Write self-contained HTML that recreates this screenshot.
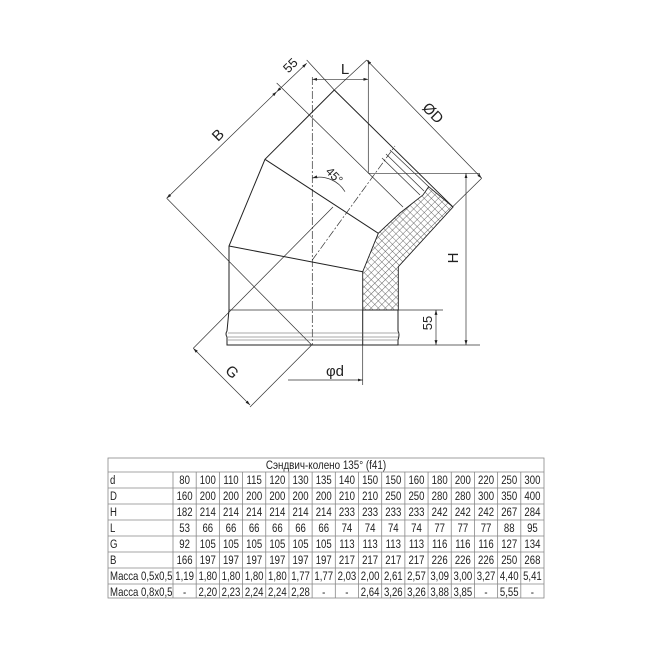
<!DOCTYPE html>
<html><head><meta charset="utf-8"><style>
body{margin:0;background:#fff}
svg{display:block}
text{font-family:"Liberation Sans",sans-serif;fill:#222}
</style></head><body>
<svg width="650" height="650" viewBox="0 0 650 650" xmlns="http://www.w3.org/2000/svg">
<defs>
<pattern id="h" width="5" height="5" patternUnits="userSpaceOnUse" patternTransform="rotate(45)">
<rect width="5" height="5" fill="#fff"/><path d="M0 0H5M0 0V5" stroke="#444" stroke-width="0.8"/>
</pattern>
<marker id="a" viewBox="0 0 10 10" refX="10" refY="5" markerWidth="7" markerHeight="7" orient="auto-start-reverse"><path d="M0 2L10 5L0 8z" fill="#222"/></marker>
</defs>
<g stroke="#333" fill="none" stroke-width="0.7">
<line x1="312.3" y1="77" x2="312.3" y2="345" stroke-dasharray="8 2 2 2"/>
<line x1="368.3" y1="60" x2="368.3" y2="173.3"/>
<line x1="193.3" y1="348.3" x2="333" y2="207"/>
<line x1="312.3" y1="260" x2="395" y2="146" stroke-dasharray="8 2 2 2"/>
<line x1="250" y1="407" x2="311.7" y2="345"/>
<line x1="166.7" y1="198.3" x2="311.7" y2="345"/>
<line x1="276.7" y1="83" x2="403" y2="207"/>
<line x1="306.7" y1="60" x2="334.3" y2="90"/>
<line x1="366.7" y1="60" x2="334.3" y2="90"/>
<line x1="481.7" y1="178.3" x2="452.7" y2="206.7"/>
<line x1="368.3" y1="173.3" x2="480" y2="173.3"/>
<line x1="398" y1="345" x2="480" y2="345"/>
<line x1="229" y1="310" x2="443" y2="310"/>
<line x1="362.7" y1="345" x2="362.7" y2="385"/>
<line x1="390" y1="150" x2="429" y2="187"/>
<line x1="386" y1="154" x2="424" y2="191"/>
<line x1="382" y1="158" x2="420" y2="195"/>
<line x1="166.7" y1="198.3" x2="276.7" y2="91.7" marker-start="url(#a)" marker-end="url(#a)"/>
<line x1="276.7" y1="91.7" x2="306.7" y2="63.3" marker-start="url(#a)" marker-end="url(#a)"/>
<line x1="366.7" y1="60" x2="481.7" y2="178.3" marker-start="url(#a)" marker-end="url(#a)"/>
<line x1="312.3" y1="79.3" x2="368.3" y2="79.3" marker-start="url(#a)" marker-end="url(#a)"/>
<line x1="466" y1="173.3" x2="466" y2="345" marker-start="url(#a)" marker-end="url(#a)"/>
<line x1="436" y1="310" x2="436" y2="345" marker-start="url(#a)" marker-end="url(#a)"/>
<line x1="288" y1="380" x2="362.7" y2="380" marker-end="url(#a)"/>
<line x1="193.3" y1="348.3" x2="250" y2="405" marker-start="url(#a)" marker-end="url(#a)"/>
<path d="M312.3 178 A30 30 0 0 1 345 191.7" marker-start="url(#a)"/>
</g>
<path d="M428.7 186.7L453 207L398.3 266.7L398.3 310L362.7 310L362.7 271.7L378.3 233.3L400 213L423 195Z" fill="url(#h)" stroke="#222" stroke-width="0.9"/>
<g stroke="#222" fill="none" stroke-width="1">
<path d="M334.3 90L309.3 115L265 159.3L229 246L229 310L227 331Q225 334 227 337L227 345L398 345L398 340Q400 334 398 331L398 310"/>
<line x1="334.3" y1="90" x2="452.7" y2="206.7"/>
<line x1="265" y1="159.3" x2="378.3" y2="233.3"/>
<line x1="229" y1="246" x2="362.7" y2="271.7"/>
<line x1="362.7" y1="310" x2="362.7" y2="345"/>
</g>
<g stroke="#555" stroke-width="0.6">
<line x1="228" y1="333" x2="398" y2="333"/><line x1="228" y1="337" x2="398" y2="337"/><line x1="228" y1="340" x2="398" y2="340"/>
</g>
<g font-size="15">
<text x="218" y="140" transform="rotate(-45 218 135)" text-anchor="middle">B</text>
<text x="290" y="70" transform="rotate(-45 290 65)" text-anchor="middle" font-size="13">55</text>
<text x="345" y="74" text-anchor="middle">L</text>
<text x="433" y="118" transform="rotate(45 433 113)" text-anchor="middle">ØD</text>
<text x="335" y="180" transform="rotate(45 335 175)" text-anchor="middle" font-size="12">45°</text>
<text x="453" y="263" transform="rotate(-90 453 258)" text-anchor="middle">H</text>
<text x="427" y="328" transform="rotate(-90 427 323)" text-anchor="middle" font-size="13">55</text>
<text x="335" y="376" text-anchor="middle">φd</text>
<text x="232" y="377" transform="rotate(45 232 372)" text-anchor="middle">G</text>
</g>
<g stroke="#888" stroke-width="0.8">
<rect x="108" y="458" width="436" height="140" fill="none"/>
<line x1="108" y1="472" x2="544" y2="472"/>
<line x1="108" y1="488" x2="544" y2="488"/>
<line x1="108" y1="504" x2="544" y2="504"/>
<line x1="108" y1="520" x2="544" y2="520"/>
<line x1="108" y1="536" x2="544" y2="536"/>
<line x1="108" y1="552" x2="544" y2="552"/>
<line x1="108" y1="568" x2="544" y2="568"/>
<line x1="108" y1="584" x2="544" y2="584"/>
<line x1="173" y1="472" x2="173" y2="598"/>
</g>
<g id="cols" stroke="#888" stroke-width="0.8"></g>
<g font-size="12" id="tt">
<text transform="translate(326 469) scale(0.82 1)" text-anchor="middle">Сэндвич-колено 135° (f41)</text>
</g>
<script>
var ns="http://www.w3.org/2000/svg";
var rows=[["d","80","100","110","115","120","130","135","140","150","150","160","180","200","220","250","300"],
["D","160","200","200","200","200","200","200","210","210","250","250","280","280","300","350","400"],
["H","182","214","214","214","214","214","214","233","233","233","233","242","242","242","267","284"],
["L","53","66","66","66","66","66","66","74","74","74","74","77","77","77","88","95"],
["G","92","105","105","105","105","105","105","113","113","113","113","116","116","116","127","134"],
["B","166","197","197","197","197","197","197","217","217","217","217","226","226","226","250","268"],
["Масса 0,5x0,5","1,19","1,80","1,80","1,80","1,80","1,77","1,77","2,03","2,00","2,61","2,57","3,09","3,00","3,27","4,40","5,41"],
["Масса 0,8x0,5","-","2,20","2,23","2,24","2,24","2,28","-","-","2,64","3,26","3,26","3,88","3,85","-","5,55","-"]];
var cw=(544-173)/16,g=document.getElementById("cols"),t=document.getElementById("tt");
for(var c=1;c<16;c++){var l=document.createElementNS(ns,"line");var x=173+c*cw;l.setAttribute("x1",x);l.setAttribute("x2",x);l.setAttribute("y1",472);l.setAttribute("y2",598);g.appendChild(l);}
rows.forEach(function(r,i){var y=484+i*16;r.forEach(function(v,j){var e=document.createElementNS(ns,"text");e.textContent=v;
if(j==0){e.setAttribute("transform","translate(110 "+y+") scale(0.8 1)");}
else{var x=173+(j-0.5)*cw;e.setAttribute("transform","translate("+x+" "+y+") scale(0.8 1)");e.setAttribute("text-anchor","middle");}
t.appendChild(e);});});
</script>
</svg>
</body></html>
